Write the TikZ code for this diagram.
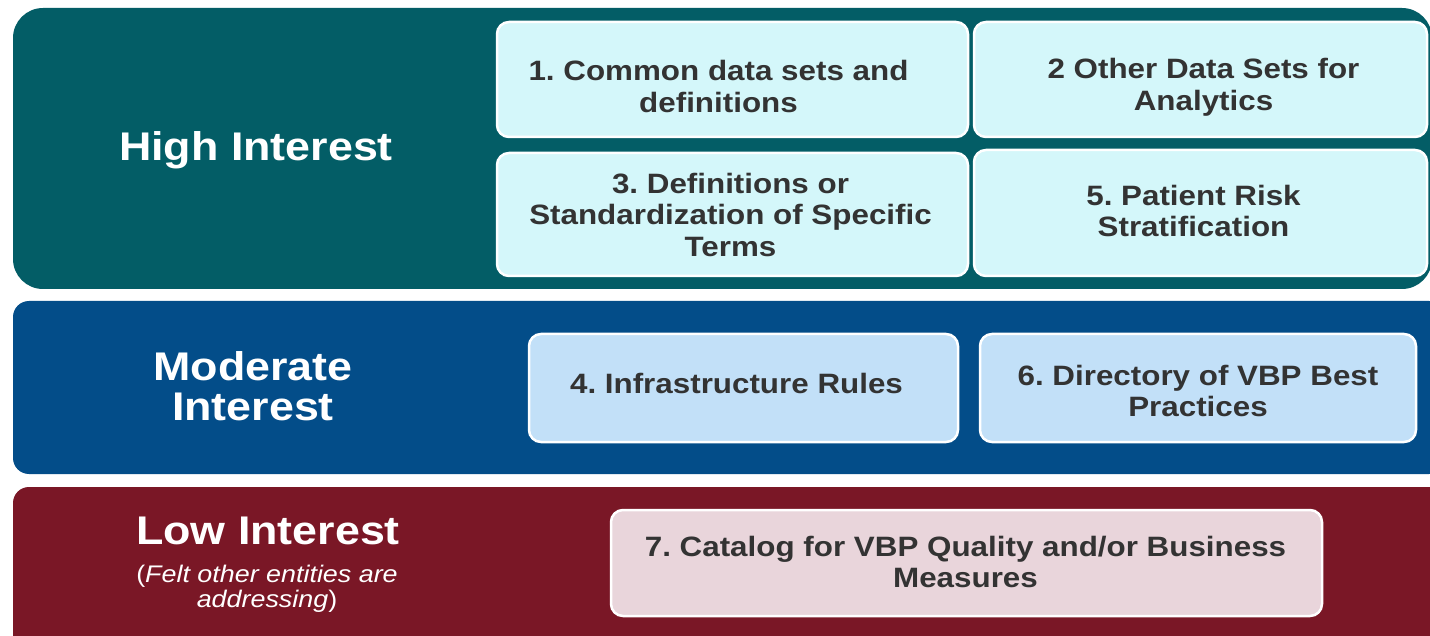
\documentclass[tikz,border=0pt]{standalone}
\usepackage{fontspec}
\setmainfont{Liberation Sans}[FakeStretch=1.12]
\frenchspacing
\definecolor{hiband}{HTML}{035D66}
\definecolor{moband}{HTML}{034D89}
\definecolor{loband}{HTML}{7A1726}
\definecolor{hibox}{HTML}{D4F7FA}
\definecolor{mobox}{HTML}{C2E0F8}
\definecolor{lobox}{HTML}{E9D5DB}
\definecolor{boxtext}{HTML}{333333}
\begin{document}
\begin{tikzpicture}[x=1pt,y=-1pt,
  band/.style={fill=#1, draw=none},
  item/.style={draw=white, line width=2.5pt, fill=#1, rounded corners=12pt,
    inner sep=0pt},
  itemtext/.style={text=boxtext, align=center, inner sep=0pt,
    font=\fontsize{28}{31.5}\selectfont\bfseries},
  title/.style={text=white, align=center, inner sep=0pt,
    font=\fontsize{40}{40}\selectfont\bfseries},
  note/.style={text=white, align=center, inner sep=0pt,
    font=\fontsize{24}{25}\selectfont\itshape}]
\useasboundingbox (0,0) rectangle (1430,636);
\fill[white] (0,0) rectangle (1430,636);
% bands
\path[band=hiband, rounded corners=30pt] (13,8) rectangle (1432,289);
\path[band=moband, rounded corners=16pt] (13,301) rectangle (1445,474);
\path[band=loband, rounded corners=16pt] (13,487) rectangle (1445,660);
% titles
\node[title] (thigh) at (256,150) {High Interest};
\node[title] (tmod) at (253,386) {Moderate\\Interest};
\node[title] (tlow) at (268,531) {Low Interest};
\node[note] (tnote) at (267,589) {{\upshape(}Felt other entities are\\addressing{\upshape)}};
% high boxes
\node[item=hibox, minimum width=471pt, minimum height=115pt] (b1) at (732.5,79.5) {};
\node[item=hibox, minimum width=453pt, minimum height=115pt] (b2) at (1200.5,79.5) {};
\node[item=hibox, minimum width=471pt, minimum height=123pt] (b3) at (732.5,214.5) {};
\node[item=hibox, minimum width=453pt, minimum height=126pt] (b5) at (1200.5,213) {};
% moderate boxes
\node[item=mobox, minimum width=429pt, minimum height=108pt] (b4) at (743.5,388) {};
\node[item=mobox, minimum width=436pt, minimum height=108pt] (b6) at (1198,388) {};
% low box
\node[item=lobox, minimum width=711pt, minimum height=106pt] (b7) at (966.5,563) {};
% box texts
\node[itemtext] (t1) at ([shift={(-14,7)}]b1.center) {1. Common data sets and\\definitions};
\node[itemtext] (t2) at ([shift={(3,8)}]b2.center) {2 Other Data Sets for\\Analytics};
\node[itemtext] (t3) at ([shift={(-2,0)}]b3.center) {3. Definitions or\\Standardization of Specific\\Terms};
\node[itemtext] (t5) at ([shift={(-7,-2)}]b5.center) {5. Patient Risk\\Stratification};
\node[itemtext] (t4) at ([shift={(-7,-5)}]b4.center) {4. Infrastructure Rules};
\node[itemtext] (t6) at ([shift={(0,3)}]b6.center) {6. Directory of VBP Best\\Practices};
\node[itemtext] (t7) at ([shift={(-1,-1)}]b7.center) {7. Catalog for VBP Quality and/or Business\\Measures};
\end{tikzpicture}
\end{document}
